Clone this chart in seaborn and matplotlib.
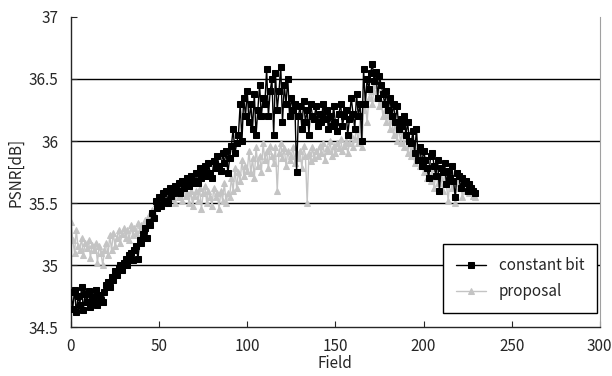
"""
PSNR per field: constant bit allocation vs. proposal.
"""

import numpy as np
import pandas as pd
from matplotlib import pyplot as plt
import seaborn as sns

constant_bit = [
    34.78, 34.65, 34.80, 34.62, 34.75, 34.68, 34.82, 34.64, 34.77, 34.70,
    34.79, 34.66, 34.74, 34.70, 34.80, 34.68, 34.76, 34.72, 34.70, 34.78,
    34.84, 34.86, 34.82, 34.90, 34.88, 34.95, 34.92, 34.98, 35.00, 34.96,
    35.02, 35.05, 35.00, 35.08, 35.10, 35.04, 35.12, 35.15, 35.05, 35.20,
    35.18, 35.25, 35.30, 35.22, 35.35, 35.32, 35.42, 35.38, 35.52, 35.46,
    35.55, 35.48, 35.58, 35.52, 35.60, 35.50, 35.62, 35.56, 35.58, 35.64,
    35.60, 35.66, 35.58, 35.68, 35.62, 35.65, 35.70, 35.64, 35.72, 35.66,
    35.68, 35.74, 35.66, 35.78, 35.70, 35.76, 35.80, 35.72, 35.82, 35.74,
    35.70, 35.84, 35.78, 35.88, 35.80, 35.76, 35.90, 35.82, 35.92, 35.74,
    35.86, 35.96, 36.10, 35.90, 35.98, 36.05, 36.30, 36.00, 36.35, 36.20,
    36.40, 36.15, 36.30, 36.10, 36.38, 36.05, 36.25, 36.45, 36.20, 36.35,
    36.30, 36.58, 36.20, 36.40, 36.50, 36.05, 36.55, 36.25, 36.40, 36.60,
    36.15, 36.45, 36.30, 36.50, 36.20, 36.35, 36.25, 36.30, 35.75, 36.20,
    36.28, 36.10, 36.32, 36.15, 36.25, 36.05, 36.30, 36.20, 36.18, 36.28,
    36.12, 36.22, 36.15, 36.30, 36.18, 36.25, 36.10, 36.20, 36.12, 36.28,
    36.15, 36.08, 36.22, 36.30, 36.12, 36.20, 36.25, 36.05, 36.18, 36.35,
    36.22, 36.10, 36.38, 36.20, 36.30, 36.00, 36.58, 36.30, 36.50, 36.42,
    36.55, 36.62, 36.48, 36.56, 36.35, 36.52, 36.45, 36.38, 36.30, 36.40,
    36.25, 36.35, 36.20, 36.30, 36.15, 36.28, 36.10, 36.18, 36.12, 36.20,
    36.05, 36.15, 36.00, 35.98, 36.08, 35.90, 36.10, 35.85, 35.95, 35.80,
    35.92, 35.85, 35.78, 35.70, 35.88, 35.90, 35.80, 35.72, 35.85, 35.60,
    35.78, 35.75, 35.82, 35.65, 35.76, 35.70, 35.80, 35.68, 35.55, 35.74,
    35.72, 35.62, 35.70, 35.66, 35.68, 35.60, 35.65, 35.62, 35.60, 35.58,
]

proposal = [
    35.35, 35.20, 35.10, 35.28, 35.15, 35.12, 35.22, 35.08, 35.18, 35.14,
    35.20, 35.06, 35.16, 35.12, 35.18, 35.02, 35.15, 35.10, 35.00, 35.12,
    35.18, 35.08, 35.24, 35.12, 35.26, 35.15, 35.22, 35.28, 35.18, 35.25,
    35.30, 35.22, 35.28, 35.20, 35.32, 35.24, 35.30, 35.26, 35.34, 35.28,
    35.32, 35.30, 35.36, 35.34, 35.40, 35.38, 35.44, 35.42, 35.50, 35.46,
    35.52, 35.48, 35.55, 35.50, 35.56, 35.52, 35.58, 35.54, 35.60, 35.50,
    35.58, 35.55, 35.60, 35.52, 35.62, 35.56, 35.58, 35.50, 35.60, 35.48,
    35.56, 35.60, 35.52, 35.62, 35.45, 35.58, 35.64, 35.50, 35.60, 35.55,
    35.48, 35.62, 35.55, 35.58, 35.45, 35.60, 35.52, 35.66, 35.50, 35.58,
    35.55, 35.70, 35.60, 35.78, 35.62, 35.75, 35.68, 35.85, 35.72, 35.80,
    35.76, 35.92, 35.74, 35.86, 35.70, 35.95, 35.80, 35.88, 35.75, 35.98,
    35.85, 35.92, 35.78, 35.96, 35.88, 35.82, 35.95, 35.60, 35.90, 35.98,
    35.86, 35.94, 35.80, 35.92, 35.85, 35.88, 35.95, 35.82, 35.90, 35.86,
    35.92, 35.78, 35.96, 35.88, 35.50, 35.90, 35.84, 35.95, 35.86, 35.92,
    35.88, 35.96, 35.90, 35.98, 35.85, 35.94, 35.92, 36.00, 35.88, 35.96,
    35.90, 35.98, 35.94, 36.02, 35.92, 35.96, 36.00, 35.90, 35.98, 36.05,
    35.95, 36.02, 36.10, 35.98, 36.20, 35.95, 36.25, 36.30, 36.15, 36.35,
    36.40, 36.30, 36.45, 36.35, 36.42, 36.28, 36.32, 36.20, 36.25, 36.15,
    36.22, 36.10, 36.18, 36.05, 36.15, 36.00, 36.12, 35.98, 36.08, 35.95,
    36.05, 35.90, 36.00, 35.88, 35.96, 35.82, 35.92, 35.85, 35.80, 35.90,
    35.75, 35.86, 35.70, 35.80, 35.68, 35.78, 35.62, 35.74, 35.66, 35.72,
    35.70, 35.60, 35.75, 35.65, 35.52, 35.70, 35.62, 35.68, 35.50, 35.66,
    35.62, 35.68, 35.55, 35.64, 35.60, 35.62, 35.58, 35.60, 35.56, 35.55,
]

field = np.arange(len(constant_bit))

sns.set_style("ticks")
plt.rcParams['font.family'] = ['Noto Sans CJK JP', 'DejaVu Sans']

df = pd.DataFrame({"Field": np.concatenate([field, field]),
                   "PSNR": constant_bit + proposal,
                   "series": ["constant bit"] * len(field) + ["proposal"] * len(field)})

fig = plt.figure(figsize=(6.12, 3.76), dpi=100)
ax = fig.add_axes([0.116, 0.130, 0.864, 0.825])

# gridlines first so the data sits on top
for y in [35, 35.5, 36, 36.5]:
    ax.axhline(y, color="black", lw=1.0, zorder=0)

sns.lineplot(data=df[df.series == "proposal"], x="Field", y="PSNR", ax=ax,
             color="#c4c4c4", marker="^", markersize=5, markeredgecolor="#c4c4c4",
             lw=1.0, label="proposal", zorder=2)
sns.lineplot(data=df[df.series == "constant bit"], x="Field", y="PSNR", ax=ax,
             color="black", marker="s", markersize=4.5, markeredgecolor="black",
             lw=1.0, label="constant bit", zorder=3)

ax.set_xlim(0, 300)
ax.set_ylim(34.5, 37)
ax.set_xticks(range(0, 301, 50))
ax.set_yticks([34.5, 35, 35.5, 36, 36.5, 37])
ax.set_yticklabels(["34.5", "35", "35.5", "36", "36.5", "37"])
ax.tick_params(direction="in", length=4, labelsize=11, width=0.8)
ax.tick_params(axis="x", pad=8)
ax.tick_params(axis="y", pad=9)
ax.set_xlabel("Field", fontsize=11, labelpad=0)
ax.set_ylabel("PSNR[dB]", fontsize=11, labelpad=3)

ax.spines["top"].set_visible(False)
ax.spines["right"].set_color("#a0a0a0")
ax.spines["left"].set_linewidth(1.0)
ax.spines["bottom"].set_linewidth(1.0)

handles, labels = ax.get_legend_handles_labels()
order = [labels.index("constant bit"), labels.index("proposal")]
leg = ax.legend([handles[i] for i in order], [labels[i] for i in order],
                loc="lower right", bbox_to_anchor=(0.995, 0.045), fontsize=11,
                frameon=True, fancybox=False, edgecolor="black", framealpha=1,
                handlelength=2.0, handletextpad=0.8, labelspacing=0.6,
                borderpad=0.85, borderaxespad=0)
leg.get_frame().set_linewidth(1.0)

fig.savefig("out.png", dpi=100)
